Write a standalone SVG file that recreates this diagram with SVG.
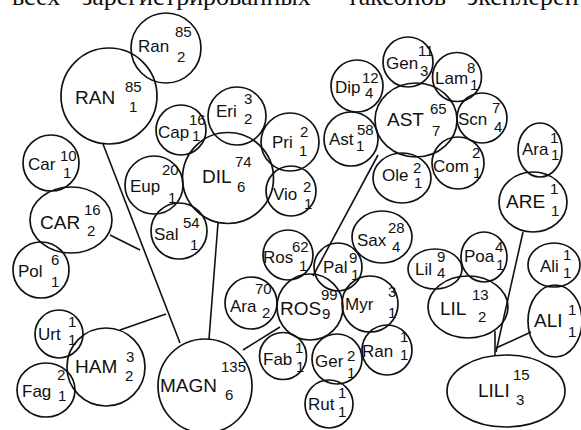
<svg xmlns="http://www.w3.org/2000/svg" width="581" height="430" viewBox="0 0 581 430">
<style>
.n{fill:none;stroke:#111;stroke-width:1.7}
.c{fill:none;stroke:#111;stroke-width:1.6}
text{font-family:"Liberation Sans",Arial,sans-serif;fill:#111}
.b{font-size:19px}
.s{font-size:17px}
.d{font-size:15px}
.top{font-family:"Liberation Serif","Times New Roman",serif;font-size:26px}
</style>
<rect width="581" height="430" fill="#fff"/>
<text class="top" y="5"><tspan x="12">всех</tspan><tspan x="82">зарегистрированных</tspan><tspan x="347">таксонов</tspan><tspan x="467">эксплерентов</tspan></text>
<g id="connectors">
<line class="c" x1="103" y1="144" x2="180" y2="343"/>
<line class="c" x1="110" y1="235" x2="140" y2="250"/>
<line class="c" x1="120" y1="330" x2="166" y2="314"/>
<line class="c" x1="218" y1="223" x2="209" y2="339"/>
<line class="c" x1="243" y1="350" x2="280" y2="327"/>
<line class="c" x1="313" y1="276" x2="378" y2="155"/>
<line class="c" x1="523" y1="232" x2="496" y2="352"/>
<line class="c" x1="495" y1="331" x2="495" y2="356"/>
<line class="c" x1="531" y1="332" x2="496" y2="348"/>
</g>
<g id="RAN"><circle class="n" cx="109" cy="96" r="48"/><text class="b" x="75" y="104">RAN</text><text class="d" x="125" y="92">85</text><text class="d" x="129" y="112">1</text></g>
<g id="Ran1"><circle class="n" cx="166" cy="48" r="35"/><text class="s" x="138" y="52">Ran</text><text class="d" x="175" y="37">85</text><text class="d" x="177" y="62">2</text></g>
<g id="Cap"><circle class="n" cx="181" cy="130" r="25"/><text class="s" x="158" y="138">Cap</text><text class="d" x="189" y="125">16</text><text class="d" x="192" y="141">1</text></g>
<g id="Eri"><circle class="n" cx="237" cy="116" r="29"/><text class="s" x="216" y="117">Eri</text><text class="d" x="244" y="104">3</text><text class="d" x="244" y="124">2</text></g>
<g id="Pri"><circle class="n" cx="290" cy="142" r="29"/><text class="s" x="272" y="148">Pri</text><text class="d" x="300" y="137">2</text><text class="d" x="299" y="156">1</text></g>
<g id="Dip"><circle class="n" cx="357" cy="86" r="26"/><text class="s" x="335" y="93">Dip</text><text class="d" x="362" y="83">12</text><text class="d" x="365" y="98">4</text></g>
<g id="Ast"><circle class="n" cx="351" cy="139" r="27"/><text class="s" x="329" y="145">Ast</text><text class="d" x="357" y="135">58</text><text class="d" x="356" y="151">1</text></g>
<g id="DIL"><circle class="n" cx="228" cy="178" r="45.5"/><text class="b" x="202" y="183">DIL</text><text class="d" x="235" y="167">74</text><text class="d" x="237" y="192">6</text></g>
<g id="Vio"><circle class="n" cx="291" cy="191" r="25"/><text class="s" x="273" y="200">Vio</text><text class="d" x="303" y="192">2</text><text class="d" x="304" y="209">1</text></g>
<g id="Eup"><circle class="n" cx="154" cy="185" r="29"/><text class="s" x="130" y="192">Eup</text><text class="d" x="162" y="175">20</text><text class="d" x="168" y="203">1</text></g>
<g id="Sal"><circle class="n" cx="179" cy="231" r="28"/><text class="s" x="154" y="240">Sal</text><text class="d" x="183" y="228">54</text><text class="d" x="190" y="250">1</text></g>
<g id="Car"><circle class="n" cx="51" cy="163" r="28"/><text class="s" x="28" y="170">Car</text><text class="d" x="60" y="161">10</text><text class="d" x="63" y="178">1</text></g>
<g id="CAR"><ellipse class="n" cx="71" cy="220" rx="41" ry="33"/><text class="b" x="40" y="229">CAR</text><text class="d" x="84" y="215">16</text><text class="d" x="87" y="236">2</text></g>
<g id="Pol"><circle class="n" cx="41" cy="270" r="28"/><text class="s" x="18" y="277">Pol</text><text class="d" x="51" y="265">6</text><text class="d" x="51" y="287">1</text></g>
<g id="Urt"><circle class="n" cx="59" cy="334" r="24"/><text class="s" x="38" y="340">Urt</text><text class="d" x="68" y="327">1</text><text class="d" x="68" y="345">1</text></g>
<g id="HAM"><circle class="n" cx="106" cy="367" r="39"/><text class="b" x="75" y="373">HAM</text><text class="d" x="126" y="362">3</text><text class="d" x="125" y="381">2</text></g>
<g id="Fag"><ellipse class="n" cx="46" cy="390" rx="29" ry="27"/><text class="s" x="22" y="397">Fag</text><text class="d" x="57" y="380">2</text><text class="d" x="58" y="401">1</text></g>
<g id="MAGN"><circle class="n" cx="205" cy="386" r="47"/><text class="b" x="160" y="392">MAGN</text><text class="d" x="221" y="372">135</text><text class="d" x="225" y="400">6</text></g>
<g id="ROS"><circle class="n" cx="310" cy="307" r="33"/><text class="b" x="280" y="315">ROS</text><text class="d" x="321" y="300">99</text><text class="d" x="322" y="319">9</text></g>
<g id="Ara2"><circle class="n" cx="251" cy="303" r="26"/><text class="s" x="230" y="312">Ara</text><text class="d" x="255" y="294">70</text><text class="d" x="262" y="318">2</text></g>
<g id="Myr"><circle class="n" cx="370" cy="304" r="28"/><text class="s" x="345" y="310">Myr</text><text class="d" x="388" y="297">3</text><text class="d" x="388" y="318">1</text></g>
<g id="Ran2"><circle class="n" cx="387" cy="350" r="25"/><text class="s" x="362" y="357">Ran</text><text class="d" x="400" y="342">1</text><text class="d" x="400" y="360">1</text></g>
<g id="Fab"><circle class="n" cx="283" cy="356" r="23.5"/><text class="s" x="263" y="365">Fab</text><text class="d" x="295" y="353">1</text><text class="d" x="296" y="372">1</text></g>
<g id="Ger"><circle class="n" cx="337" cy="359" r="25"/><text class="s" x="315" y="367">Ger</text><text class="d" x="347" y="361">2</text><text class="d" x="347" y="378">1</text></g>
<g id="Rut"><circle class="n" cx="329" cy="404" r="24"/><text class="s" x="308" y="410">Rut</text><text class="d" x="338" y="398">1</text><text class="d" x="338" y="417">1</text></g>
<g id="Ros"><circle class="n" cx="288" cy="255" r="25"/><text class="s" x="263" y="263">Ros</text><text class="d" x="292" y="252">62</text><text class="d" x="299" y="271">1</text></g>
<g id="Pal"><circle class="n" cx="338" cy="267" r="24"/><text class="s" x="323" y="273">Pal</text><text class="d" x="349" y="263">9</text><text class="d" x="351" y="280">1</text></g>
<g id="Sax"><ellipse class="n" cx="382" cy="237" rx="30" ry="26"/><text class="s" x="357" y="246">Sax</text><text class="d" x="388" y="233">28</text><text class="d" x="392" y="252">4</text></g>
<g id="AST"><ellipse class="n" cx="416" cy="120" rx="41" ry="37"/><text class="b" x="387" y="126">AST</text><text class="d" x="430" y="114">65</text><text class="d" x="432" y="136">7</text></g>
<g id="Gen"><circle class="n" cx="408" cy="62" r="25"/><text class="s" x="386" y="69">Gen</text><text class="d" x="418" y="56">11</text><text class="d" x="420" y="76">3</text></g>
<g id="Lam"><circle class="n" cx="457" cy="77" r="24.5"/><text class="s" x="435" y="84">Lam</text><text class="d" x="467" y="73">8</text><text class="d" x="470" y="90">1</text></g>
<g id="Scn"><circle class="n" cx="482" cy="118" r="25"/><text class="s" x="458" y="125">Scn</text><text class="d" x="492" y="113">7</text><text class="d" x="494" y="132">4</text></g>
<g id="Com"><circle class="n" cx="458" cy="163" r="26"/><text class="s" x="433" y="172">Com</text><text class="d" x="472" y="158">2</text><text class="d" x="473" y="178">1</text></g>
<g id="Ole"><ellipse class="n" cx="402" cy="178" rx="29" ry="25"/><text class="s" x="382" y="181">Ole</text><text class="d" x="413" y="173">2</text><text class="d" x="414" y="188">1</text></g>
<g id="Ara3"><ellipse class="n" cx="540" cy="150" rx="22" ry="27"/><text class="s" x="522" y="155">Ara</text><text class="d" x="550" y="143">1</text><text class="d" x="551" y="160">1</text></g>
<g id="ARE"><ellipse class="n" cx="533" cy="202" rx="34" ry="30"/><text class="b" x="506" y="208">ARE</text><text class="d" x="550" y="194">1</text><text class="d" x="551" y="216">1</text></g>
<g id="LILI"><ellipse class="n" cx="506" cy="391" rx="59" ry="36"/><text class="b" x="478" y="397">LILI</text><text class="d" x="513" y="380">15</text><text class="d" x="516" y="405">3</text></g>
<g id="LIL"><ellipse class="n" cx="468" cy="307" rx="40" ry="31"/><text class="b" x="440" y="315">LIL</text><text class="d" x="472" y="300">13</text><text class="d" x="478" y="322">2</text></g>
<g id="Lil"><ellipse class="n" cx="435" cy="269" rx="27" ry="20"/><text class="s" x="415" y="275">Lil</text><text class="d" x="437" y="262">9</text><text class="d" x="437" y="278">4</text></g>
<g id="Poa"><ellipse class="n" cx="484" cy="257" rx="23" ry="25"/><text class="s" x="464" y="262">Poa</text><text class="d" x="495" y="252">4</text><text class="d" x="496" y="270">1</text></g>
<g id="Ali"><ellipse class="n" cx="554" cy="265" rx="26" ry="22"/><text class="s" x="540" y="272">Ali</text><text class="d" x="563" y="260">1</text><text class="d" x="563" y="278">1</text></g>
<g id="ALI"><ellipse class="n" cx="555" cy="321" rx="27" ry="36"/><text class="b" x="534" y="327">ALI</text><text class="d" x="568" y="315">1</text><text class="d" x="568" y="337">1</text></g>
</svg>
